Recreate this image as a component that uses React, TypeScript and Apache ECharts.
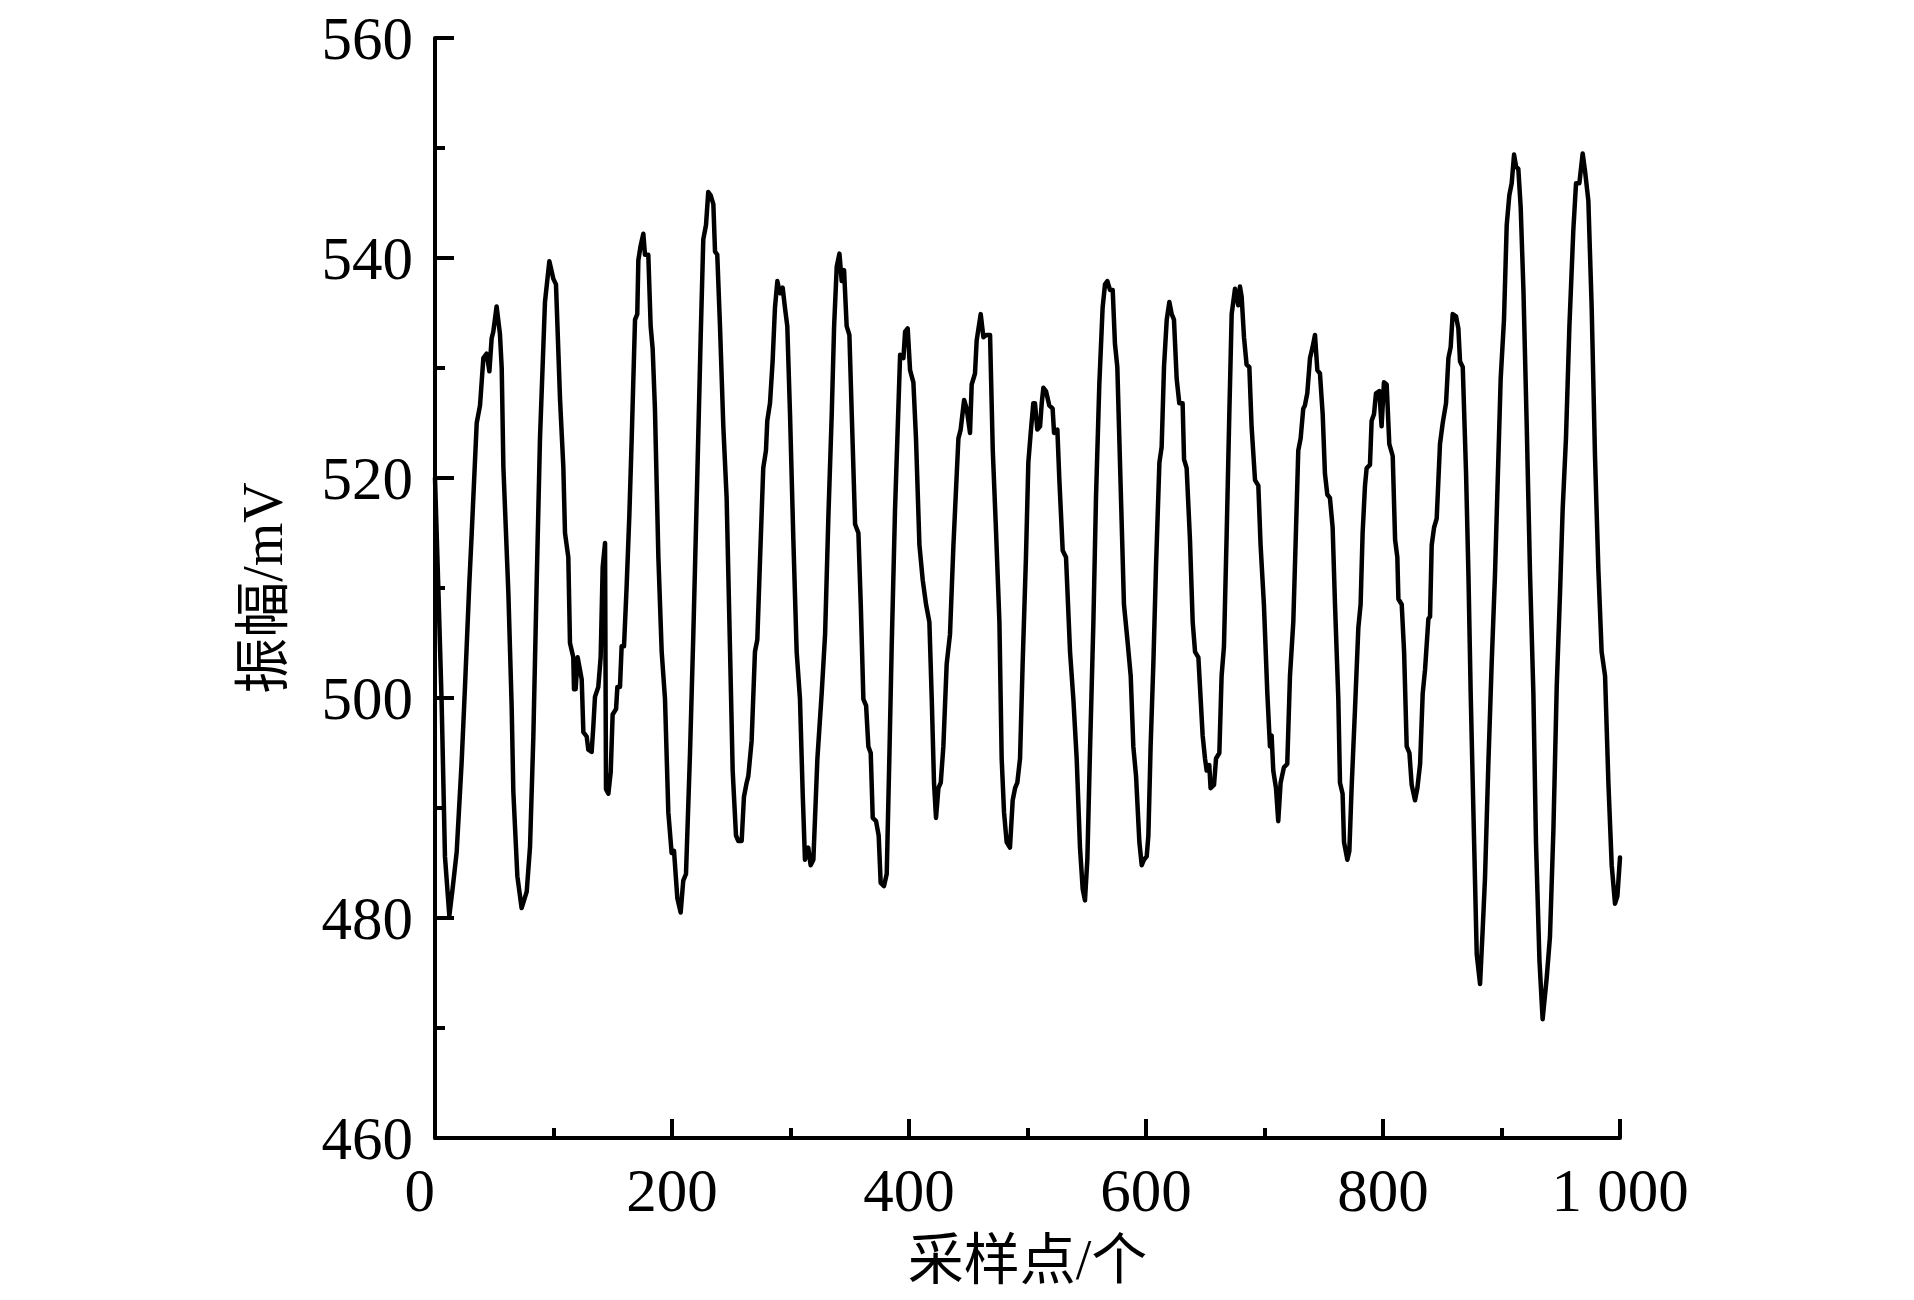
import React, { useEffect, useRef } from "react";
import * as echarts from "echarts";

const sampleIndex: number[] = [
  0, 2.8, 5.6, 8.4, 12.1, 14.9, 18.3, 22.5, 25.3, 29, 31, 35.2, 38, 40.8, 43.6, 45.9, 47.8, 49.2, 52, 54.8, 56.3, 57.7, 61.9, 64.7, 66.1, 69.5, 73.1, 77.4, 80.2, 83, 85.8, 88.6, 92.8, 96.5, 99.9, 102.1, 105.5, 108.3, 109.7, 112.5, 113.9, 116.7, 117.3, 118.7, 120.4, 123.8, 125.2, 128, 129.4, 132.2, 133.6, 135, 137.8, 139.8, 141.5, 143.5, 144.3, 146.3, 148.3, 149.9, 152.8, 153.9, 156.1,
  157.5, 159.5, 161.7, 164, 166, 168.8, 170.7, 171.6, 173.5, 175.8, 177.2, 180, 182, 183.7, 185.6, 188.5, 191.3, 194.1, 196.9, 199.7, 201.7, 204.5, 207.3, 209.5, 211.8, 215.2, 218, 221.4, 224.2, 226.4, 228.7, 230.6, 232.6, 234.9, 236.3, 238.2, 240.5, 243.3, 246.1, 248.9, 251.2, 254, 256, 258.8, 260.7, 263, 264.4, 267.2, 270, 272, 274.2, 277, 279.3, 280.4, 282.7, 284.9, 286.9, 288.9, 291.1, 293.4, 295.3, 297.3, 299.6, 302.4, 305.2, 308, 310.3, 312.2, 315, 317, 319.3,
  322.7, 326.3, 329.2, 332, 334.8, 336.8, 339, 341.3, 343.2, 345.2, 347.4, 349.7, 351.7, 354.5, 357.3, 359.3, 361.5, 363.8, 365.7, 367.7, 369.4, 372.2, 374.4, 376.1, 378.9, 381.2, 383.4, 385.4, 388.2, 390.2, 392.5, 395.3, 396.7, 398.9, 400.9, 403.7, 405.9, 408.8, 411.6, 414.4, 417.2, 419.2, 421.1, 422.8, 424.8, 426.8, 429, 431.8, 434.6, 437.5, 440.3, 441.7, 443.6, 446.5, 448.7, 451.5, 452.9, 455.7, 457.1, 460.5, 462.8, 465, 468.4, 470.7, 473.5, 476.3, 478.2, 480.2,
  482.4, 485.2, 487.5, 489.5, 491.4, 493.7, 495.9, 498.7, 500.7, 502.7, 504.9, 506.3, 508.3, 510.6, 512, 513.4, 515.6, 518.4, 521.2, 522.4, 525.2, 526.9, 529.7, 532.5, 535.9, 538.7, 541.5, 544.3, 546.6, 548.5, 550.5, 552.7, 555.6, 557.8, 560.6, 563.4, 565.4, 567.4, 569.6, 571.9, 573.8, 575.8, 578.6, 581.4, 584.3, 587.1, 589.3, 591.6, 594.4, 596.4, 598.3, 600.6, 602, 603.9, 606.2, 608.4, 611.3, 613.2, 615.2, 617.5, 619.7, 621.7, 623.6, 625.9, 628.1, 630.9, 632.1, 634.3, 637.1, 639.4, 641.4, 644.2,
  647.8, 649.8, 651.2, 653.4, 654.5, 657.4, 659.1, 661.9, 663.8, 665.8, 668.1, 670.3, 672.3, 675.1, 677.9, 679.3, 680.7, 682.7, 684.9, 687.2, 689.1, 692, 694.8, 696.7, 699.5, 702.4, 704.6, 706, 707.4, 709.7, 711.6, 713.6, 716.4, 719.2, 721.5, 724.3, 726.5, 728.5, 730.5, 732.7, 734.1, 736.1, 738.4, 740.6, 742.6, 744.6, 746.8, 749.1, 751, 753, 755.2, 757.5, 759.5, 762.3, 763.7, 765.9, 767.1, 769.9, 771.6, 773.5, 776.3, 779.2, 781.1, 782.8, 784.8, 786.2, 789, 790.4, 792.4, 794.1, 796.9, 798.8, 800.8, 803.1, 805.3,
  808.2, 810.2, 812.1, 813, 815.8, 817.8, 820, 822.3, 824.2, 827, 829, 831.3, 833.5, 835.5, 838.3, 839.7, 841.1, 843.1, 845.3, 848.1, 850.4, 853.2, 855.2, 857.1, 858.8, 861.6, 863.6, 865, 867.3, 870.1, 872.1, 874, 876.3, 879.1, 881.9, 884.1, 886.1, 888.9, 891.7, 894.5, 897.4, 899.3, 902.1, 904.4, 906.6, 908.6, 910.6, 912.3, 914.2, 916.2, 918.5, 921.3, 924.1, 926.9, 929.1, 932,
  934.7, 938.1, 940.9, 943.8, 946.6, 949.4, 951.6, 954.4, 957.3, 960.6, 962.9, 965.7, 968.5, 970.5, 973.3, 976.1, 978.9, 981.7, 984.5, 987.4, 990.2, 993, 995.8, 997.8, 1000,
];

const amplitudeMv: number[] = [
  520, 510, 499.6, 485.6, 480.2, 482.7, 486, 494.2, 501, 510.5, 515, 525, 526.6, 530.9, 531.3, 529.7, 532.7, 533.3, 535.6, 533.1, 530, 521, 509.6, 499.2, 491.5, 483.8, 480.9, 482.4, 486.5, 496.5, 510.5, 523.6, 536, 539.7, 538.1, 537.6, 527.2, 521, 515, 512.8, 505, 503.7, 500.8, 500.8, 503.7, 501.7, 496.9, 496.5, 495.3, 495.1, 497.4, 500.1, 501, 503.7, 511.9, 514.1, 491.7, 491.3, 493.3, 498.5, 499, 501, 501,
  504.7, 504.7, 510.1, 516.6, 523.6, 534.4, 534.9, 539.8, 541.1, 542.2, 540.3, 540.3, 533.8, 531.7, 526.3, 512.8, 504.2, 499.9, 489.6, 485.9, 486.1, 481.8, 480.5, 483.4, 484, 495, 505.8, 520.4, 532.8, 541.7, 543, 546, 545.7, 544.9, 540.6, 540.3, 533.8, 524.7, 518.2, 504.7, 493.4, 487.5, 487, 487, 491, 492.3, 492.9, 496.1, 504.2, 505.3, 512.3, 520.9, 522.5, 525.2, 526.8, 530.6, 535.5, 537.9, 536.8, 537.3, 535.5, 533.8, 525.8, 514.4, 504.2, 499.9, 491.3, 485.3, 486.4, 484.8, 485.3,
  494.5, 500.4, 505.8, 516.6, 525.8, 533.8, 539.2, 540.4, 537.9, 538.9, 533.8, 533, 525.8, 515.8, 515, 508.5, 499.9, 499.3, 495.6, 495, 489.1, 488.8, 487.5, 483.2, 482.9, 484, 494.5, 504.7, 517.1, 523.6, 531.2, 530.9, 533.3, 533.6, 529.8, 528.7, 523.6, 513.9, 510.7, 508.5, 506.9, 499.9, 492.3, 489.1, 491.8, 492.3, 495.6, 503.1, 505.8, 513.9, 520.4, 523.6, 524.4, 527.1, 526.3, 524.1, 528.5, 529.5, 532.5, 534.9, 532.8, 533, 533, 522.5, 515, 506.9, 494.5, 489.6,
  486.9, 486.4, 490.7, 491.8, 492.3, 494.5, 503.1, 512.8, 521.4, 524.1, 526.8, 526.8, 524.4, 524.7, 526.8, 528.2, 527.9, 526.6, 526.3, 524.1, 524.4, 519.8, 513.4, 512.8, 504.2, 499.9, 494.5, 486.4, 482.6, 481.6, 485.3, 495, 506.9, 518.2, 528.5, 535.5, 537.6, 537.9, 537.1, 537.1, 532.2, 530.1, 519.3, 508.5, 505.3, 502, 495.6, 492.9, 486.9, 484.8, 485.3, 485.6, 487.5, 495.6, 503.1, 511.8, 521.4, 522.8, 530.1, 534.4, 536, 534.9, 534.4, 529, 526.8, 526.8, 521.7, 520.9, 514.4, 506.9, 504.2, 503.7,
  496.6, 494.5, 493.4, 493.9, 491.8, 492.1, 494.5, 495, 502, 504.7, 515, 525.8, 534.9, 537.2, 535.7, 537.4, 536.5, 532.8, 530.3, 530.1, 524.7, 519.8, 519.3, 513.9, 508.5, 500.4, 495.6, 496.6, 493.4, 491.8, 488.8, 492.3, 493.7, 494, 502, 506.9, 515, 522.5, 523.6, 526.3, 526.6, 527.7, 530.9, 531.9, 533, 529.8, 529.5, 525.8, 520.4, 518.5, 518.2, 515.5, 508.5, 499.9, 492.3, 491.3, 486.9, 485.3, 486.1, 491.8, 498.8, 506.4, 508.5, 515, 519.3, 520.9, 521.2, 525.2, 525.8, 527.7, 527.9, 524.7, 528.7, 528.5, 523.1,
  522, 514.4, 512.8, 509, 508.5, 504.2, 495.6, 495, 492.1, 490.7, 491.8, 494, 500.4, 502.6, 507.2, 507.4, 513.9, 515.5, 516.3, 523.1, 525, 526.8, 530.9, 531.9, 534.9, 534.7, 533.6, 530.6, 530.1, 520.4, 511.2, 500.4, 489.6, 476.7, 474, 478.9, 483.7, 494, 503.1, 511.2, 522, 529, 534.4, 543, 545.7, 546.8, 549.4, 548.3, 548.1, 544.6, 537.1, 524.7, 511.2, 500.4, 486.9, 476.2,
  470.8, 474.5, 478.3, 488, 501, 509.6, 517.1, 523.6, 533.8, 542.5, 546.8, 546.8, 549.5, 547.9, 545.2, 535.5, 522, 511.8, 504.2, 502, 492.3, 484.8, 481.3, 482, 485.5,
];

const xTickStep = 200;
const yTickStep = 20;
const xRange = [0, 1000];
const yRange = [460, 560];
const xAxisTitle = "采样点/个";
const yAxisTitle = "振幅/mV";

const latinFont = "'Liberation Serif', 'DejaVu Serif', 'Noto Sans CJK SC', serif";

export default function App() {
  const ref = useRef<HTMLDivElement>(null);

  useEffect(() => {
    if (!ref.current) return;
    const chart = echarts.init(ref.current, undefined, { renderer: "svg" });
    const points = sampleIndex.map((s, i) => [s, amplitudeMv[i]]);
    const axisLine = { show: true, lineStyle: { color: "#000", width: 4 } };
    const tickStyle = { color: "#000", width: 4 };
    chart.setOption({
      animation: false,
      backgroundColor: "#fff",
      grid: { left: 435, top: 38, right: 294, bottom: 162, containLabel: false },
      xAxis: {
        type: "value",
        min: xRange[0],
        max: xRange[1],
        interval: xTickStep,
        axisLine,
        axisTick: { show: true, inside: true, length: 19, lineStyle: tickStyle },
        minorTick: { show: true, splitNumber: 2, length: 10, lineStyle: tickStyle },
        splitLine: { show: false },
        axisLabel: {
          color: "#000",
          fontSize: 61,
          fontFamily: latinFont,
          margin: 22,
          alignMinLabel: "right",
          formatter: (v: number) => (v === 1000 ? "1 000" : String(v)),
        },
        name: xAxisTitle,
        nameLocation: "middle",
        nameGap: 94,
        nameTextStyle: { color: "#000", fontSize: 56, fontFamily: latinFont },
      },
      yAxis: {
        type: "value",
        min: yRange[0],
        max: yRange[1],
        interval: yTickStep,
        axisLine,
        axisTick: { show: true, inside: true, length: 19, lineStyle: tickStyle },
        minorTick: { show: true, splitNumber: 2, length: 10, lineStyle: tickStyle },
        splitLine: { show: false },
        axisLabel: {
          color: "#000",
          fontSize: 61,
          fontFamily: latinFont,
          margin: 22,
        },
        name: yAxisTitle,
        nameLocation: "middle",
        nameGap: 144,
        nameRotate: 90,
        nameTextStyle: { color: "#000", fontSize: 56, fontFamily: latinFont },
      },
      series: [
        {
          type: "line",
          data: points,
          showSymbol: false,
          symbol: "none",
          lineStyle: { color: "#000", width: 4.5, join: "round", cap: "round" },
          itemStyle: { color: "#000" },
        },
      ],
    });
    return () => chart.dispose();
  }, []);

  return (
    <div
      ref={ref}
      style={{ position: "absolute", left: 0, top: 0, width: 1914, height: 1300, background: "#fff" }}
    />
  );
}
